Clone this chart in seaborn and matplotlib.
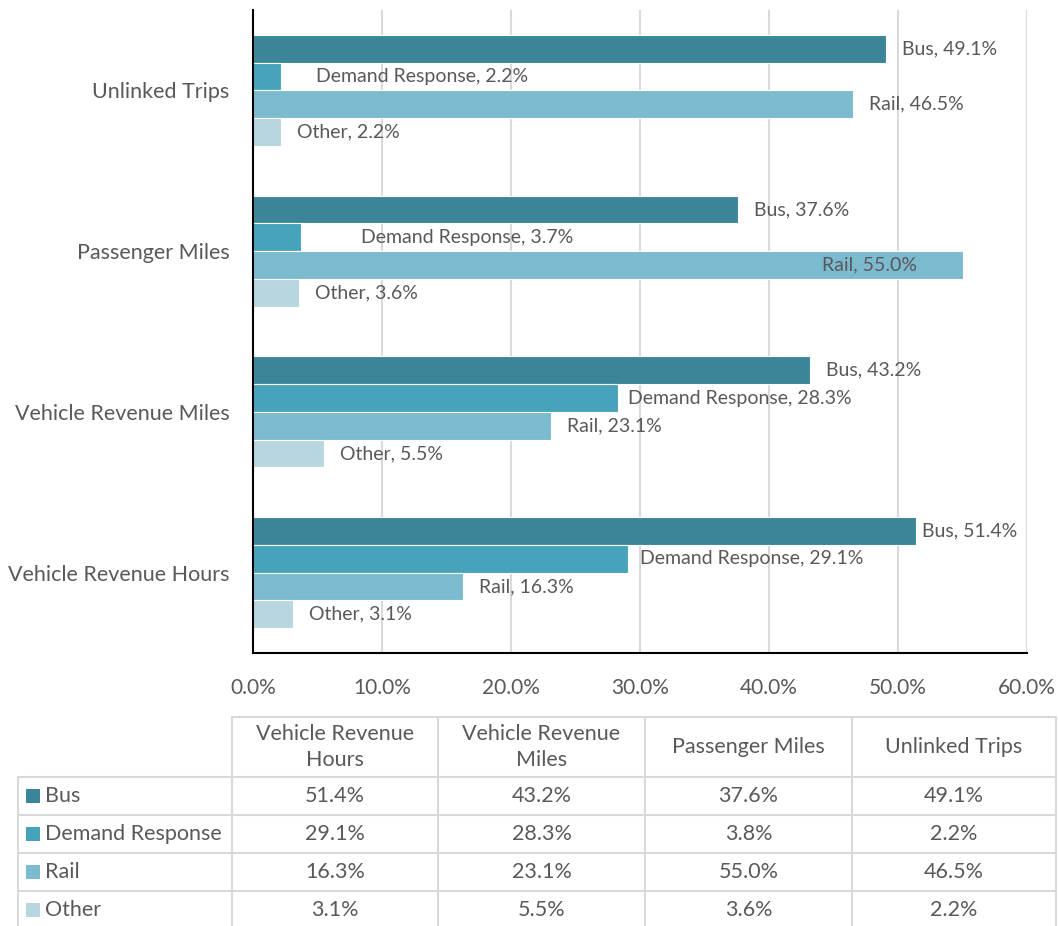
import pandas as pd
import matplotlib
matplotlib.use("Agg")
from matplotlib import pyplot as plt
import seaborn as sns

# categories in table order (chart draws them bottom to top)
categories = ["Vehicle Revenue Hours", "Vehicle Revenue Miles", "Passenger Miles", "Unlinked Trips"]
modes = ["Bus", "Demand Response", "Rail", "Other"]

bus = [51.4, 43.2, 37.6, 49.1]
demand = [29.1, 28.3, 3.7, 2.2]
rail = [16.3, 23.1, 55.0, 46.5]
other = [3.1, 5.5, 3.6, 2.2]
# the data table under the chart shows 3.8% for demand response passenger miles
demand_table = [29.1, 28.3, 3.8, 2.2]

colors = ["#3A8698", "#47A3BC", "#7CBAD0", "#B7D6E0"]
text_c = "#595959"
grid_c = "#D9D9D9"

# label nudges in pixels (Excel labels were moved by hand)
label_dx = {
    ("Unlinked Trips", "Demand Response"): 35,
    ("Passenger Miles", "Demand Response"): 60,
    ("Passenger Miles", "Rail"): -45,
    ("Vehicle Revenue Miles", "Demand Response"): 10,
    ("Vehicle Revenue Hours", "Bus"): 6,
    ("Vehicle Revenue Hours", "Demand Response"): 12,
}

rows = []
for mode, vals in zip(modes, [bus, demand, rail, other]):
    for cat, v in zip(categories, vals):
        rows.append({"category": cat, "mode": mode, "share": v})
df = pd.DataFrame(rows)

sns.set_style("white")
plt.rcParams["font.family"] = ["Lato", "DejaVu Sans"]

W, H = 1058, 926
fig = plt.figure(figsize=(W / 100, H / 100), dpi=100)
ax = fig.add_axes([253 / W, 1 - 653 / H, (1027 - 253) / W, (653 - 10) / H])

sns.barplot(data=df, y="category", x="share", hue="mode", order=categories[::-1],
            hue_order=modes, palette=colors, saturation=1, orient="h", width=0.69, gap=0,
            edgecolor="white", linewidth=0.8, legend=False, ax=ax)

ax.set_xlim(0, 60)
ax.set_xticks(range(0, 61, 10))
ax.set_xticklabels([f"{t:.1f}%" for t in range(0, 61, 10)])
ax.set_xlabel("")
ax.set_ylabel("")
ax.xaxis.grid(True, color=grid_c, linewidth=1.5)
ax.set_axisbelow(True)
for s in ["top", "right"]:
    ax.spines[s].set_visible(False)
for s in ["left", "bottom"]:
    ax.spines[s].set_color("black")
    ax.spines[s].set_linewidth(1.5)
ax.tick_params(axis="x", length=0, pad=18, labelsize=15, labelcolor=text_c)
ax.tick_params(axis="y", length=0, pad=17, labelsize=15.5, labelcolor=text_c)

# data labels
for mode, cont in zip(modes, ax.containers):
    for cat, bar in zip(categories[::-1], cont):
        v = bar.get_width()
        y = bar.get_y() + bar.get_height() / 2
        dx = label_dx.get((cat, mode), 16)
        ax.annotate(f"{mode}, {v:.1f}%", (v, y), xytext=(dx * 0.72, 0),
                    textcoords="offset points", ha="left" if dx > 0 else "right",
                    va="center", fontsize=14, color=text_c)

# data table below the chart, drawn in pixel coordinates
tb = fig.add_axes([0, 0, 1, 1], facecolor="none")
tb.set_xlim(0, W)
tb.set_ylim(H, 0)
tb.axis("off")
col_x = [18, 232, 438, 645, 852, 1056]
row_y = [717, 777, 815, 853, 891, 929]
lw = 1.5
tb.plot([col_x[1], col_x[-1]], [row_y[0], row_y[0]], color=grid_c, lw=lw)
for y in row_y[1:]:
    tb.plot([col_x[0], col_x[-1]], [y, y], color=grid_c, lw=lw)
tb.plot([col_x[0], col_x[0]], [row_y[1], row_y[-1]], color=grid_c, lw=lw)
for x in col_x[1:]:
    tb.plot([x, x], [row_y[0], row_y[-1]], color=grid_c, lw=lw)

headers = ["Vehicle Revenue\nHours", "Vehicle Revenue\nMiles", "Passenger Miles", "Unlinked Trips"]
for i, h in enumerate(headers):
    tb.text((col_x[i + 1] + col_x[i + 2]) / 2, (row_y[0] + row_y[1]) / 2, h,
            ha="center", va="center", fontsize=15.5, color=text_c, linespacing=1.35)

for r, (mode, vals) in enumerate(zip(modes, [bus, demand_table, rail, other])):
    yc = (row_y[r + 1] + row_y[r + 2]) / 2
    tb.add_patch(plt.Rectangle((26, yc - 7), 14, 14, color=colors[r], lw=0))
    tb.text(45, yc, mode, ha="left", va="center", fontsize=15.5, color=text_c)
    for c, v in enumerate(vals):
        tb.text((col_x[c + 1] + col_x[c + 2]) / 2, yc, f"{v:.1f}%",
                ha="center", va="center", fontsize=15.5, color=text_c)

fig.savefig("out.png", dpi=100)
